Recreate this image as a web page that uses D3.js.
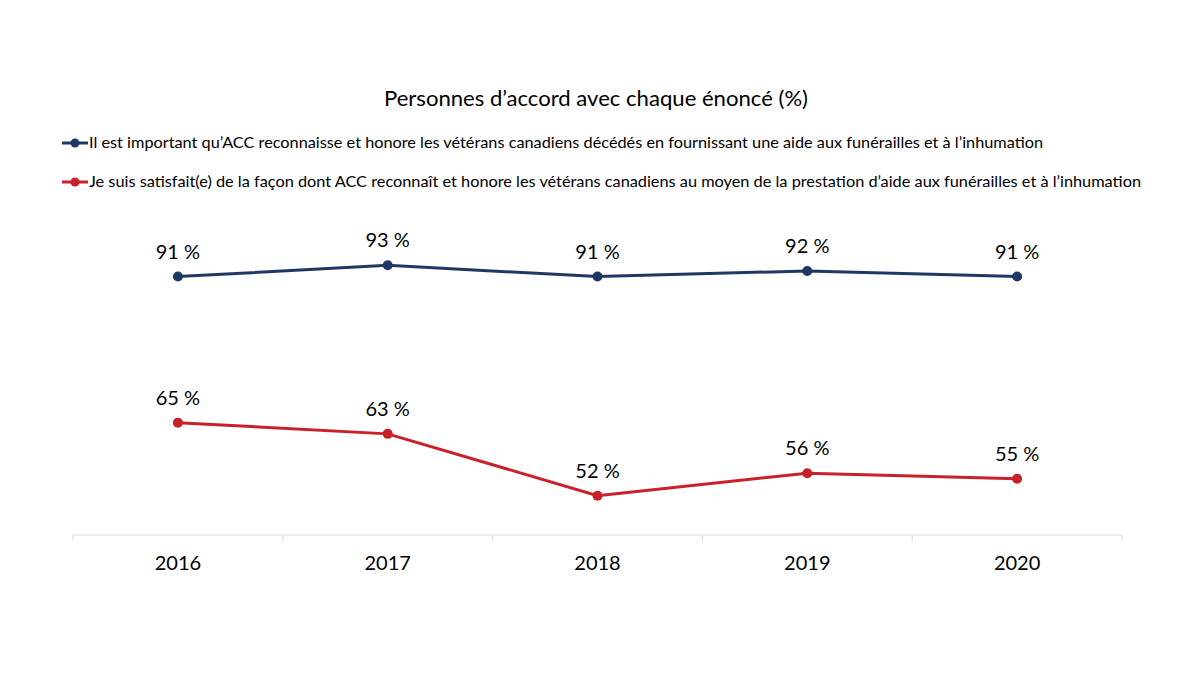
<!DOCTYPE html>
<html>
<head>
<meta charset="utf-8">
<script src="https://cdn.jsdelivr.net/npm/d3@7"></script>
<style>
  body { margin: 0; background: #fff; }
  text { font-family: Lato, "Open Sans", sans-serif; fill: #000; }
</style>
</head>
<body>
<div id="chart"></div>
<script>
// données
const years = ['2016', '2017', '2018', '2019', '2020']
const seriesNames = [
  'Il est important qu\u2019ACC reconnaisse et honore les vétérans canadiens décédés en fournissant une aide aux funérailles et à l\u2019inhumation',
  'Je suis satisfait(e) de la façon dont ACC reconnaît et honore les vétérans canadiens au moyen de la prestation d\u2019aide aux funérailles et à l\u2019inhumation'
]
const importantValues = [91, 93, 91, 92, 91]
const satisfaitValues = [65, 63, 52, 56, 55]
const colors = ['#1f3864', '#c9202a']
const title = 'Personnes d\u2019accord avec chaque énoncé (%)'

const width = 1200
const height = 675
const margin = { left: 73, right: 78, top: 226, bottom: 140 }

const svg = d3.select('#chart').append('svg')
  .attr('width', width)
  .attr('height', height)

svg.append('text')
  .attr('x', 596)
  .attr('y', 106)
  .attr('text-anchor', 'middle')
  .style('font-size', '21px')
  .attr('textLength', 424)
  .attr('lengthAdjust', 'spacingAndGlyphs')
  .text(title)

// légende
const legendY = [143, 182]
seriesNames.forEach((name, i) => {
  const g = svg.append('g').attr('transform', `translate(62,${legendY[i]})`)
  g.append('line')
    .attr('x1', 0).attr('x2', 26)
    .attr('stroke', colors[i]).attr('stroke-width', 3)
  g.append('circle')
    .attr('cx', 13).attr('r', 4.5)
    .attr('fill', colors[i])
  g.append('text')
    .attr('x', 27)
    .attr('y', 5)
    .style('font-size', '15px')
    .attr('textLength', i === 0 ? 954 : 1052)
    .attr('lengthAdjust', 'spacingAndGlyphs')
    .text(name)
})

const x = d3.scaleBand()
  .domain(years)
  .range([margin.left, width - margin.right])

const y = d3.scaleLinear()
  .domain([45, 100])
  .range([height - margin.bottom, margin.top])

// axe x
const axis = svg.append('g')
  .attr('transform', `translate(0,${height - margin.bottom})`)
axis.append('line')
  .attr('x1', margin.left).attr('x2', width - margin.right)
  .attr('stroke', '#d9d9d9').attr('stroke-width', 1)
const bounds = years.map(d => x(d)).concat([width - margin.right])
axis.selectAll('line.tick')
  .data(bounds)
  .join('line')
  .attr('class', 'tick')
  .attr('x1', d => d).attr('x2', d => d)
  .attr('y1', 0).attr('y2', 6)
  .attr('stroke', '#d9d9d9')
axis.selectAll('text')
  .data(years)
  .join('text')
  .attr('x', d => x(d) + x.bandwidth() / 2)
  .attr('y', 35)
  .attr('text-anchor', 'middle')
  .style('font-size', '20px')
  .text(d => d)

const line = d3.line()
  .x((d, i) => x(years[i]) + x.bandwidth() / 2)
  .y(d => y(d))

;[importantValues, satisfaitValues].forEach((vals, s) => {
  svg.append('path')
    .datum(vals)
    .attr('d', line)
    .attr('fill', 'none')
    .attr('stroke', colors[s])
    .attr('stroke-width', 3)
  svg.selectAll(null)
    .data(vals)
    .join('circle')
    .attr('cx', (d, i) => x(years[i]) + x.bandwidth() / 2)
    .attr('cy', d => y(d))
    .attr('r', 5)
    .attr('fill', colors[s])
  svg.selectAll(null)
    .data(vals)
    .join('text')
    .attr('x', (d, i) => x(years[i]) + x.bandwidth() / 2)
    .attr('y', d => y(d) - 18)
    .attr('text-anchor', 'middle')
    .style('font-size', '20px')
    .text(d => d + '\u00a0%')
})
</script>
</body>
</html>
